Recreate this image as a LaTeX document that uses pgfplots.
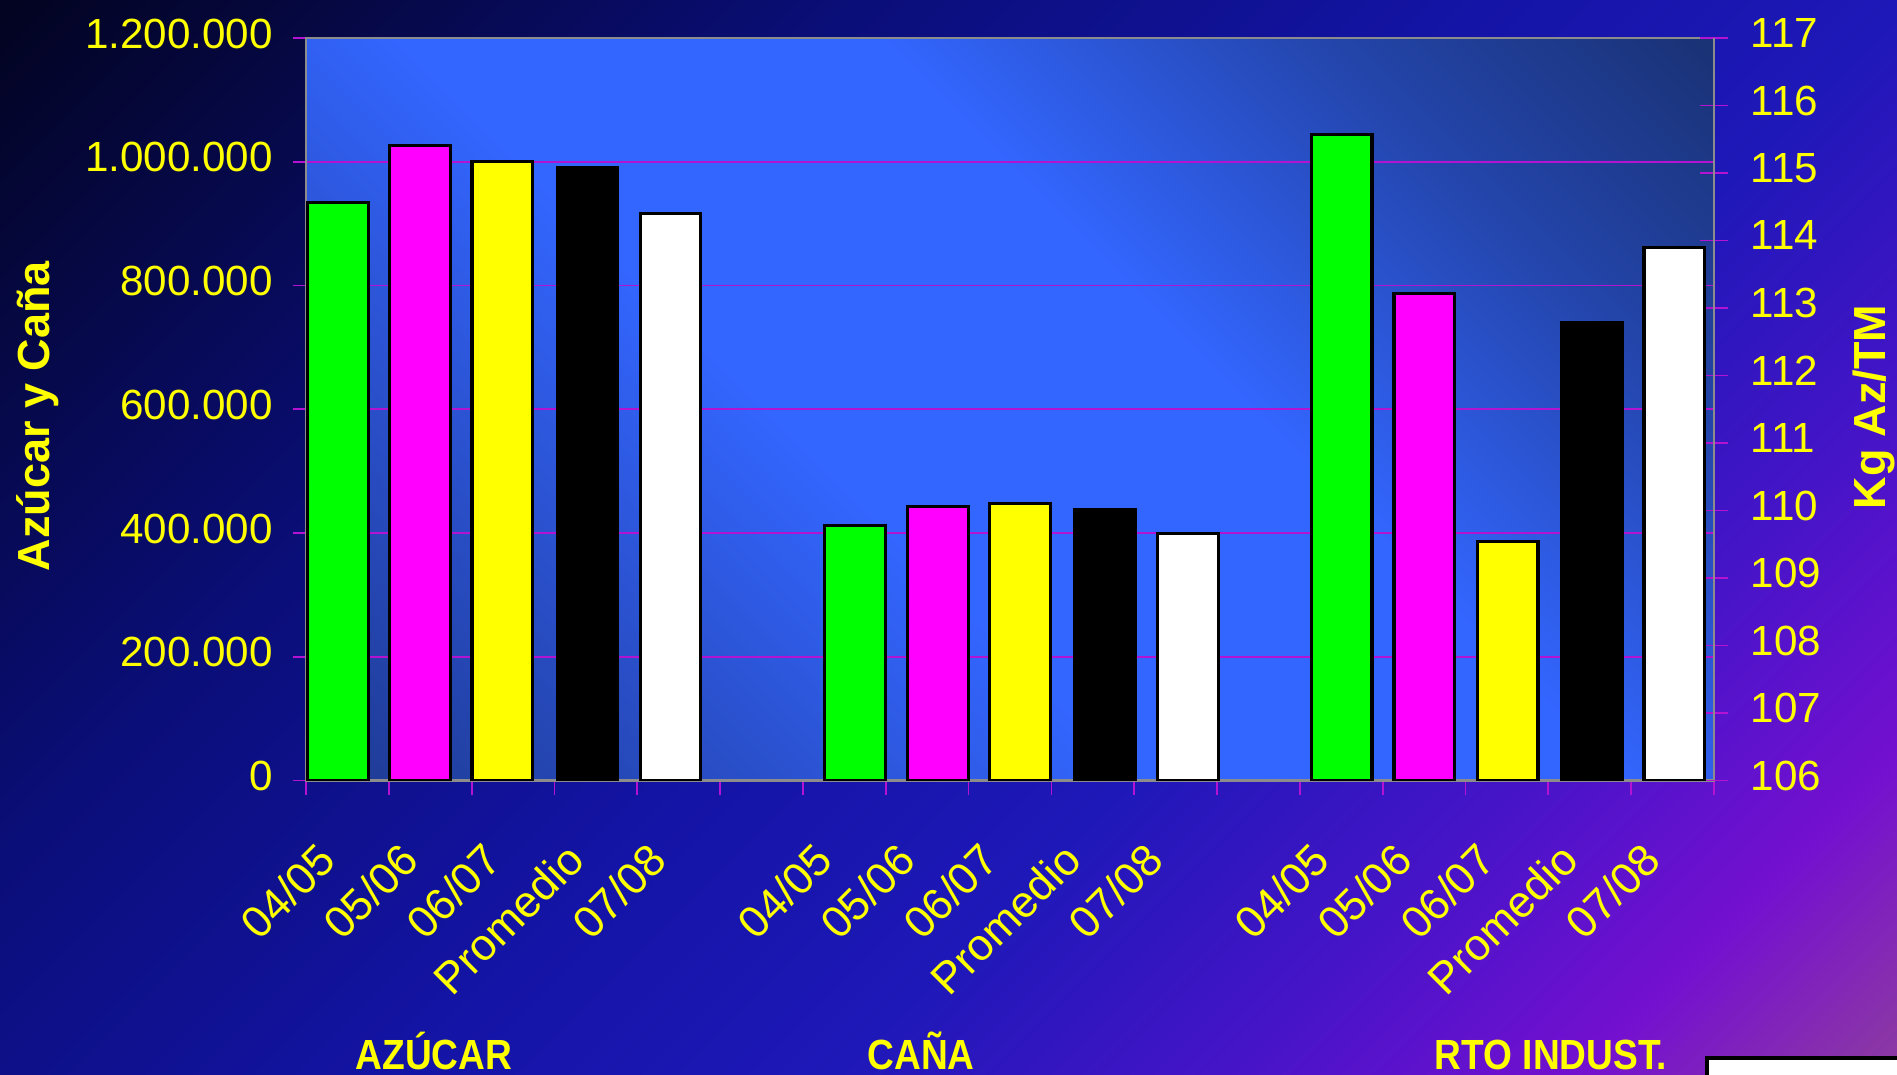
\documentclass[border=0pt]{standalone}
\usepackage{fontspec}
\setmainfont{Liberation Sans}
\newfontfamily\groupfont[FakeStretch=0.88]{Liberation Sans}
\usepackage{pgfplots}
\pgfplotsset{compat=1.18}

\definecolor{txtyellow}{HTML}{FFFF00}
\definecolor{gridcol}{HTML}{B414D2}
\definecolor{framegray}{HTML}{8C8C8C}
\definecolor{bargreen}{HTML}{00FF00}
\definecolor{barmagenta}{HTML}{FF00FF}
\definecolor{baryellow}{HTML}{FFFF00}
% outer background stops
\definecolor{bgA}{HTML}{8C38A4}
\definecolor{bgB}{HTML}{7410D0}
\definecolor{bgC}{HTML}{4814C8}
\definecolor{bgD}{HTML}{1E18B8}
\definecolor{bgE}{HTML}{1414A6}
\definecolor{bgF}{HTML}{0A0E78}
\definecolor{bgG}{HTML}{030422}
% plot area stops
\definecolor{pA}{HTML}{1E3A92}
\definecolor{pB}{HTML}{2A50CC}
\definecolor{pC}{HTML}{3366FF}
\definecolor{pD}{HTML}{2446AE}
\definecolor{pE}{HTML}{1A3276}

\pgfdeclareverticalshading{bgshade}{100bp}{color(0bp)=(bgA); color(15bp)=(bgA); color(22bp)=(bgB); color(30bp)=(bgC); color(40bp)=(bgD); color(50bp)=(bgE); color(65bp)=(bgF); color(85bp)=(bgG); color(100bp)=(bgG)}
\pgfdeclareverticalshading{plotshade}{100bp}{color(0bp)=(pA); color(15bp)=(pA); color(30bp)=(pB); color(42bp)=(pC); color(58bp)=(pC); color(72bp)=(pD); color(85bp)=(pE); color(100bp)=(pE)}

\begin{document}
\begin{tikzpicture}
\useasboundingbox (0,0) rectangle (18.97,10.74);
\shade[shading=bgshade, shading angle=45] (0,0) rectangle (18.97,10.74);

\begin{axis}[
  at={(3.06cm,2.935cm)}, anchor=south west,
  width=14.08cm, height=7.425cm, scale only axis,
  xmin=0, xmax=17, ymin=0, ymax=1200000,
  axis background/.style={shade, shading=plotshade, shading angle=-45},
  axis line style={draw=framegray, line width=0.6pt},
  scaled y ticks=false,
  ytick={0,200000,400000,600000,800000,1000000,1200000},
  yticklabels={0,200.000,400.000,600.000,800.000,1.000.000,1.200.000},
  ytick pos=left, xtick pos=lower,
  tick align=outside,
  major tick length=0.13cm,
  minor tick length=0.14cm,
  tick style={color=gridcol, line width=0.5pt},
  major x tick style={draw=none},
  minor xtick={0,1,...,17},
  xtick={0.5,1.5,2.5,3.5,4.5,6.5,7.5,8.5,9.5,10.5,12.5,13.5,14.5,15.5,16.5},
  xticklabels={04/05,05/06,06/07,Promedio,07/08,04/05,05/06,06/07,Promedio,07/08,04/05,05/06,06/07,Promedio,07/08},
  xticklabel style={anchor=east, inner sep=0pt, xshift=-0.2cm, rotate=45, font=\fontsize{12.6}{15}\selectfont, text=txtyellow},
  xticklabel shift=0.58cm,
  yticklabel style={anchor=east, inner sep=0pt, yshift=0.045cm, font=\fontsize{12}{14}\selectfont, text=txtyellow},
  yticklabel shift=0.195cm,
  ymajorgrids,
  grid style={draw=gridcol, line width=0.5pt},
]
\addplot[ybar, bar width=0.73, bar shift=0pt, fill=bargreen, draw=black, line width=0.9pt]
  coordinates {(0.386,934000) (6.63,411500)};
\addplot[ybar, bar width=0.73, bar shift=0pt, fill=barmagenta, draw=black, line width=0.9pt]
  coordinates {(1.375,1026000) (7.63,442700)};
\addplot[ybar, bar width=0.73, bar shift=0pt, fill=baryellow, draw=black, line width=0.9pt]
  coordinates {(2.37,1001000) (8.62,448200)};
\addplot[ybar, bar width=0.73, bar shift=0pt, fill=black, draw=black, line width=0.9pt]
  coordinates {(3.40,990000) (9.65,437300)};
\addplot[ybar, bar width=0.73, bar shift=0pt, fill=white, draw=black, line width=0.9pt]
  coordinates {(4.40,917000) (10.65,399700)};
\end{axis}

\begin{axis}[
  at={(3.06cm,2.935cm)}, anchor=south west,
  width=14.08cm, height=7.425cm, scale only axis,
  xmin=0, xmax=17, ymin=106, ymax=117,
  axis x line=none,
  axis y line*=right,
  axis line style={draw=framegray, line width=0.6pt},
  ytick={106,107,108,109,110,111,112,113,114,115,116,117},
  yticklabels={106,107,108,109,110,111,112,113,114,115,116,117},
  tick align=center,
  major tick length=0.28cm,
  tick style={color=gridcol, line width=0.5pt},
  yticklabel style={anchor=west, inner sep=0pt, yshift=0.05cm, font=\fontsize{12}{14}\selectfont, text=txtyellow},
  yticklabel shift=0.22cm,
]
\addplot[ybar, bar width=0.73, bar shift=0pt, fill=bargreen, draw=black, line width=0.9pt]
  coordinates {(12.505,115.57)};
\addplot[ybar, bar width=0.73, bar shift=0pt, fill=barmagenta, draw=black, line width=0.9pt]
  coordinates {(13.50,113.22)};
\addplot[ybar, bar width=0.73, bar shift=0pt, fill=baryellow, draw=black, line width=0.9pt]
  coordinates {(14.51,109.54)};
\addplot[ybar, bar width=0.73, bar shift=0pt, fill=black, draw=black, line width=0.9pt]
  coordinates {(15.53,112.79)};
\addplot[ybar, bar width=0.73, bar shift=0pt, fill=white, draw=black, line width=0.9pt]
  coordinates {(16.52,113.89)};
\end{axis}

\node[rotate=90, text=txtyellow, font=\bfseries\fontsize{12.8}{15}\selectfont] at (0.38,6.58) {Azúcar y Caña};
\node[rotate=90, text=txtyellow, font=\bfseries\fontsize{12.8}{15}\selectfont] at (18.74,6.67) {Kg Az/TM};

\node[anchor=base, text=txtyellow, font=\groupfont\bfseries\fontsize{12}{14}\selectfont] at (4.34,0.047) {AZÚCAR};
\node[anchor=base, text=txtyellow, font=\groupfont\bfseries\fontsize{12}{14}\selectfont] at (9.21,0.047) {CAÑA};
\node[anchor=base, text=txtyellow, font=\groupfont\bfseries\fontsize{12}{14}\selectfont] at (15.51,0.047) {RTO INDUST.};

\filldraw[fill=white, draw=black, line width=1pt] (17.07,-0.2) rectangle (19.2,0.16);
\end{tikzpicture}
\end{document}
